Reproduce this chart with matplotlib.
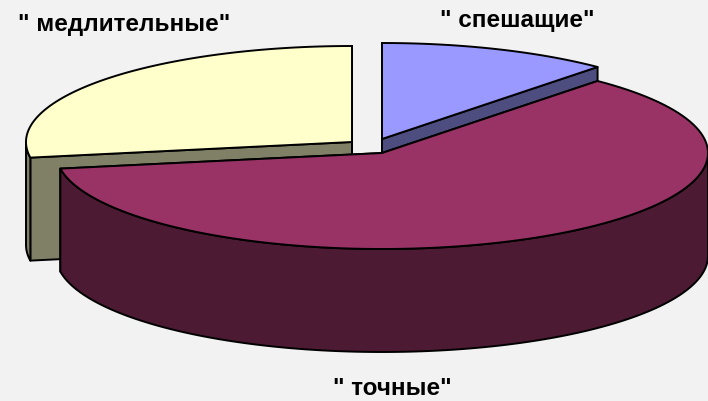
import numpy as np
import matplotlib
matplotlib.use('Agg')
import matplotlib.pyplot as plt

# shares of the pie, percent, clockwise from 12 o'clock
labels = ['" спешащие"', '" точные"', '" медлительные"']
values = [11.5, 60.9, 27.6]

face_colors = ['#9999FF', '#993366', '#FFFFCC']
side_colors = ['#4D4D80', '#4D1A33', '#808066']
apex_x = [382, 382, 352]
apex_y = [140, 154, 143]
label_x = [517, 392, 124]
label_y = [21, 389, 25]

rx = 326
ry = 96
depth = 103
bg = '#F2F2F2'

plt.rcParams['font.family'] = ['Liberation Sans', 'DejaVu Sans']
fig = plt.figure(figsize=(7.08, 4.02), dpi=100, facecolor=bg)
ax = fig.add_axes([0, 0, 1, 1])
ax.set_xlim(0, 708)
ax.set_ylim(402, 0)
ax.axis('off')

edges = np.cumsum([0] + values) / sum(values) * 2 * np.pi


def arc(cx, cy, t1, t2):
    t = np.linspace(t1, t2, 120)
    return cx + rx * np.sin(t), cy - ry * np.cos(t)


def draw_slice(i):
    t1, t2 = edges[i], edges[i + 1]
    cx, cy = apex_x[i], apex_y[i]
    x, y = arc(cx, cy, t1, t2)
    side = dict(facecolor=side_colors[i], edgecolor='black', linewidth=1.4, joinstyle='round')

    # cut faces, they run straight down from the radii
    for t in (t1, t2):
        ex, ey = arc(cx, cy, t, t)
        ax.fill([cx, ex[0], ex[0], cx], [cy, ey[0], ey[0] + depth, cy + depth], **side)

    # outer wall, only the front half of the ellipse shows
    lo, hi = max(t1, np.pi / 2), min(t2, 3 * np.pi / 2)
    if lo < hi:
        wx, wy = arc(cx, cy, lo, hi)
        ax.fill(np.r_[wx, wx[::-1]], np.r_[wy, wy[::-1] + depth], **side)

    ax.fill(np.r_[cx, x], np.r_[cy, y], facecolor=face_colors[i], edgecolor='black',
            linewidth=1.4, joinstyle='round')


# back slices first, the big one covers the others
for i in [2, 0, 1]:
    draw_slice(i)

for i in range(len(labels)):
    ax.text(label_x[i], label_y[i], labels[i], ha='center', va='center',
            fontsize=17.5, fontweight='bold', color='black')

fig.savefig('out.png', dpi=100, facecolor=bg)
